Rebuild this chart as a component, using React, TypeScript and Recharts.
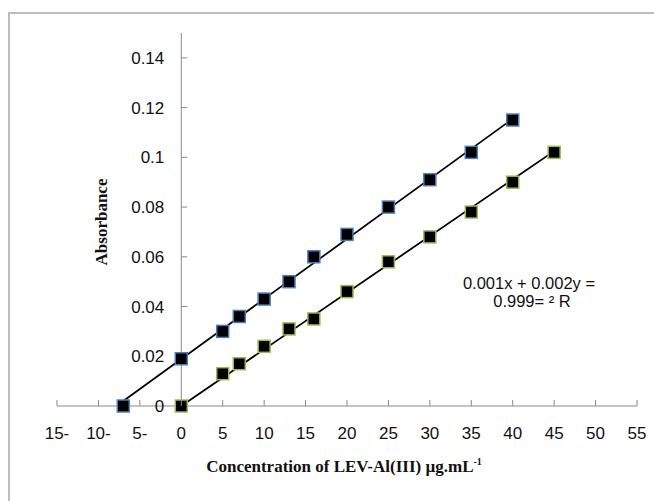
import { ComposedChart, XAxis, YAxis, Line, Scatter, ReferenceLine } from "recharts";

// axis ticks
const xTicks = [-15, -10, -5, 0, 5, 10, 15, 20, 25, 30, 35, 40, 45, 50, 55];
const yTicks = [0, 0.02, 0.04, 0.06, 0.08, 0.1, 0.12, 0.14];

// upper series (standard addition, blue outline)
const upperX = [-7, 0, 5, 7, 10, 13, 16, 20, 25, 30, 35, 40];
const upperY = [0, 0.019, 0.03, 0.036, 0.043, 0.05, 0.06, 0.069, 0.08, 0.091, 0.102, 0.115];

// lower series (calibration, green outline)
const lowerX = [0, 5, 7, 10, 13, 16, 20, 25, 30, 35, 40, 45];
const lowerY = [0, 0.013, 0.017, 0.024, 0.031, 0.035, 0.046, 0.058, 0.068, 0.078, 0.09, 0.102];

// trendline end points
const upperTrendX = [-7, 40];
const upperTrendY = [0.002, 0.1155];
const lowerTrendX = [0, 45];
const lowerTrendY = [0, 0.1025];

const zip = (xs: number[], ys: number[]) => xs.map((x, i) => ({ x, y: ys[i] }));

const W = 654;
const H = 501;
const M = { top: 33, right: 17, bottom: 65, left: 57 };
const X_MIN = -15;
const X_MAX = 55;
const PLOT_W = W - M.left - M.right;
// 6px tick length expressed in x units (y axis sits at x = 0)
const Y_TICK_LEN = (6 / PLOT_W) * (X_MAX - X_MIN);

const AXIS = "#898989";
const SANS = "'Liberation Sans', Arial, sans-serif";
const SERIF = "'Liberation Serif', 'Times New Roman', serif";

const fmtX = (v: number) => (v < 0 ? `${-v}-` : String(v));

const XTick = (props: any) => {
  const { x, y, payload } = props;
  return (
    <g>
      <line x1={x} x2={x} y1={y - 6} y2={y} stroke={AXIS} />
      <text x={x} y={y + 27} textAnchor="middle" dominantBaseline="central" fontSize={17} fontFamily={SANS} fill="#111">
        {fmtX(payload.value)}
      </text>
    </g>
  );
};

const square = (outline: string) => (props: any) => {
  const { cx, cy } = props;
  return <rect x={cx - 6} y={cy - 6} width={12} height={12} fill="#000" stroke={outline} strokeWidth={1.5} />;
};

export default function App() {
  return (
    <div style={{ position: "absolute", left: 0, top: 0, width: W, height: H, background: "#fff" }}>
      <div
        style={{
          position: "absolute",
          left: 8,
          top: 12,
          width: W - 8,
          height: H - 12,
          borderLeft: "2px solid #bdbdbd",
          borderTop: "2px solid #bdbdbd",
          boxSizing: "border-box",
        }}
      />
      <div style={{ position: "absolute", left: 0, top: 0 }}>
        <ComposedChart width={W} height={H} margin={M}>
          <XAxis
            type="number"
            dataKey="x"
            domain={[X_MIN, X_MAX]}
            ticks={xTicks}
            interval={0}
            height={30}
            stroke={AXIS}
            tickSize={0}
            tickMargin={0}
            tickLine={false}
            tick={<XTick />}
          />
          <YAxis type="number" dataKey="y" domain={[0, 0.15]} ticks={yTicks} hide />
          <ReferenceLine x={0} stroke={AXIS} strokeWidth={1} />
          {yTicks.map((t) => (
            <ReferenceLine
              key={t}
              segment={[
                { x: 0, y: t },
                { x: Y_TICK_LEN, y: t },
              ]}
              stroke={AXIS}
              label={{ value: String(t), position: "left", offset: 17, fontSize: 17, fontFamily: SANS, fill: "#111" }}
            />
          ))}
          <Line data={zip(upperTrendX, upperTrendY)} dataKey="y" type="linear" stroke="#000" strokeWidth={1.75} dot={false} isAnimationActive={false} />
          <Line data={zip(lowerTrendX, lowerTrendY)} dataKey="y" type="linear" stroke="#000" strokeWidth={1.75} dot={false} isAnimationActive={false} />
          <Scatter data={zip(upperX, upperY)} shape={square("#4a7ebb")} isAnimationActive={false} />
          <Scatter data={zip(lowerX, lowerY)} shape={square("#98b954")} isAnimationActive={false} />
        </ComposedChart>
      </div>
      <svg width={W} height={H} style={{ position: "absolute", left: 0, top: 0, pointerEvents: "none" }}>
        <text x={101} y={222} transform="rotate(-90 101 222)" textAnchor="middle" dominantBaseline="central" fontFamily={SERIF} fontWeight="bold" fontSize={17} fill="#111">
          Absorbance
        </text>
        <text x={344} y={472} textAnchor="middle" fontFamily={SERIF} fontWeight="bold" fontSize={17} fill="#111">
          Concentration of LEV-Al(III) µg.mL
          <tspan fontSize={10} dy={-7}>-1</tspan>
        </text>
        <text x={529} y={283} textAnchor="middle" dominantBaseline="central" fontFamily={SANS} fontSize={16.5} fill="#111">
          0.001x + 0.002y =
        </text>
        <text x={532} y={301} textAnchor="middle" dominantBaseline="central" fontFamily={SANS} fontSize={16.5} fill="#111">
          0.999= ² R
        </text>
      </svg>
    </div>
  );
}
